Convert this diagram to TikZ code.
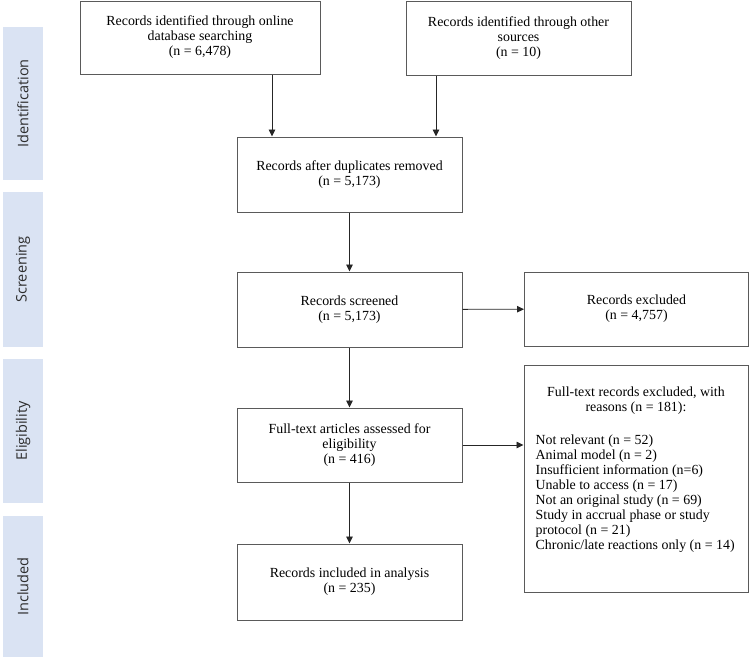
\documentclass[tikz,border=0pt]{standalone}
\usepackage{fontspec}
\setmainfont{Liberation Serif}
\newfontfamily\bandfont{Open Sans}
\usetikzlibrary{arrows.meta}
\definecolor{bandblue}{RGB}{218,227,243}
\definecolor{bandtext}{RGB}{45,45,45}
\definecolor{boxline}{RGB}{90,90,90}
\tikzset{
  box/.style={draw=boxline, line width=1pt, fill=white, inner sep=0pt, align=center,
              font=\fontsize{13.9}{15}\selectfont},
  band/.style={fill=bandblue, draw=none, inner sep=0pt, minimum width=40pt,
               font=\bandfont\fontsize{14.5}{16}\selectfont, text=bandtext},
  arr/.style={draw=black!85, line width=0.9pt, -{Triangle[length=7pt,width=6.5pt]}},
  plain/.style={inner sep=0pt, font=\fontsize{13.9}{15}\selectfont}
}
\begin{document}
\begin{tikzpicture}[x=1pt,y=-1pt]
\useasboundingbox (0,0) rectangle (750,662);
% phase bands
\node[band, minimum height=153pt] (b1) at (23,103.5) {\rotatebox{90}{Identification}};
\node[band, minimum height=155pt] (b2) at (23,269.5) {\rotatebox{90}{Screening}};
\node[band, minimum height=144pt] (b3) at (23,431) {\rotatebox{90}{Eligibility}};
\node[band, minimum height=141pt] (b4) at (23,586.5) {\rotatebox{90}{Included}};
% boxes
\node[box, minimum width=240pt, minimum height=73pt] (A) at (200,37.5)
  {Records identified through online\\database searching\\(n = 6,478)};
\node[box, minimum width=225pt, minimum height=74pt] (B) at (518.5,38)
  {Records identified through other\\sources\\(n = 10)};
\node[box, minimum width=225pt, minimum height=75pt] (C) at (349.5,174.5)
  {Records after duplicates removed\\(n = 5,173)};
\node[box, minimum width=225pt, minimum height=75pt] (D) at (349.5,309.5)
  {Records screened\\(n = 5,173)};
\node[box, minimum width=224pt, minimum height=74pt] (E) at (636.5,309)
  {Records excluded\\(n = 4,757)};
\node[box, minimum width=225pt, minimum height=74pt] (G) at (349.5,445)
  {Full-text articles assessed for\\eligibility\\(n = 416)};
\node[box, minimum width=225pt, minimum height=76pt] (H) at (349.5,582)
  {Records included in analysis\\(n = 235)};
\node[box, minimum width=224pt, minimum height=227pt] (F) at (636,478.5) {};
\node[plain, anchor=north, align=center] (Ft) at (636,386.5)
  {Full-text records excluded, with\\reasons (n = 181):};
\node[plain, anchor=north west, align=left] (Fl) at (535.5,434.5)
  {Not relevant (n = 52)\\Animal model (n = 2)\\Insufficient information (n=6)\\Unable to access (n = 17)\\Not an original study (n = 69)\\Study in accrual phase or study\\protocol (n = 21)\\Chronic/late reactions only (n = 14)};
% connector columns
\coordinate (a1) at (272,0);
\coordinate (a2) at (436,0);
% connectors
\draw[arr] (A.south -| a1) -- (C.north -| a1);
\draw[arr] (B.south -| a2) -- (C.north -| a2);
\draw[arr] (C) -- (D);
\draw[arr] (D) -- (E);
\draw[arr] (D) -- (G);
\draw[arr] (G.east) -- (G.east -| F.west);
\draw[arr] (G) -- (H);
\end{tikzpicture}
\end{document}
